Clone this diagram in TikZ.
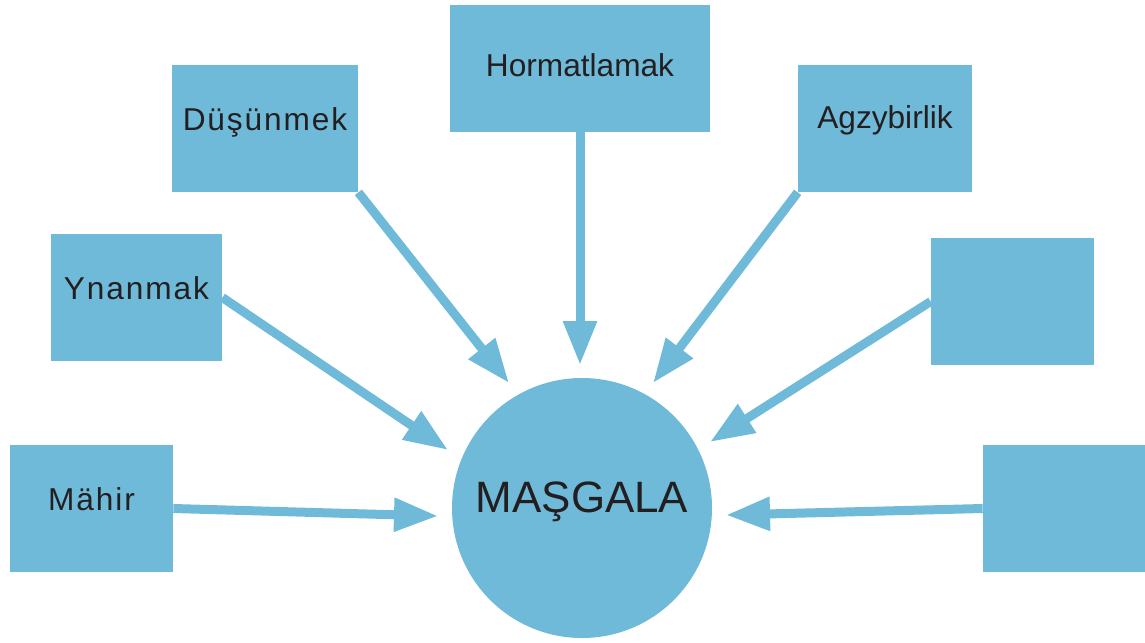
\documentclass[tikz,border=0pt]{standalone}
\usepackage{fontspec}
\setmainfont{Liberation Sans}
\newfontfamily\spacedfont[LetterSpace=6]{Liberation Sans}
\usepackage{tikz}
\usetikzlibrary{arrows.meta}
\definecolor{famblue}{RGB}{112,186,217}
\definecolor{famtext}{RGB}{35,31,32}

\begin{document}
\begin{tikzpicture}[
    box/.style={rectangle, fill=famblue, inner sep=0pt, minimum height=2.54cm, text=famtext,
        font=\fontsize{18pt}{21pt}\selectfont, text height=0.5cm, text depth=0.42cm},
    spaced/.style={font=\spacedfont\fontsize{18pt}{21pt}\selectfont},
    hub/.style={circle, fill=famblue, inner sep=0pt, minimum size=5.2cm, text=famtext,
        font=\fontsize{25pt}{30pt}\selectfont, text height=0.7cm, text depth=0.54cm},
    link/.style={-{Triangle[length=0.88cm,width=0.64cm]}, line width=0.18cm, draw=famblue}
]
            \useasboundingbox (0,0) rectangle (22.9,-12.84);

            \node[hub] (masgala) at (11.64,-10.16) {MAŞGALA};
            \node[box, spaced, minimum width=3.26cm] (mahir) at (1.83,-10.17) {Mähir};
            \node[box, spaced, minimum width=3.42cm] (ynanmak) at (2.73,-5.95) {Ynanmak};
            \node[box, spaced, minimum width=3.72cm] (dusunmek) at (5.30,-2.57) {Düşünmek};
            \node[box, minimum width=5.2cm, text depth=0.18cm] (hormat) at (11.6,-1.36) {Hormatlamak};
            \node[box, minimum width=3.48cm, text depth=0.5cm] (agzy) at (17.7,-2.57) {Agzybirlik};
            \node[box, minimum width=3.26cm] (bosA) at (20.25,-6.03) {};
            \node[box, minimum width=3.24cm] (bosB) at (21.28,-10.17) {};

            % arrow tips stop just short of the circle
            \coordinate (tipMahir) at (8.76,-10.32);
            \coordinate (tipYnanmak) at (8.96,-9.00);
            \coordinate (tipDusunmek) at (10.18,-7.66);
            \coordinate (tipHormat) at (11.6,-7.30);
            \coordinate (tipAgzy) at (13.06,-7.66);
            \coordinate (tipBosA) at (14.20,-8.84);
            \coordinate (tipBosB) at (14.52,-10.30);

            \draw[link] (mahir.east) -- (tipMahir);
            \draw[link] (ynanmak.east) -- (tipYnanmak);
            \draw[link] (dusunmek.south east) -- (tipDusunmek);
            \draw[link] (hormat.south) -- (tipHormat);
            \draw[link] (agzy.south west) -- (tipAgzy);
            \draw[link] (bosA.west) -- (tipBosA);
            \draw[link] (bosB.west) -- (tipBosB);
        \end{tikzpicture}
\end{document}
